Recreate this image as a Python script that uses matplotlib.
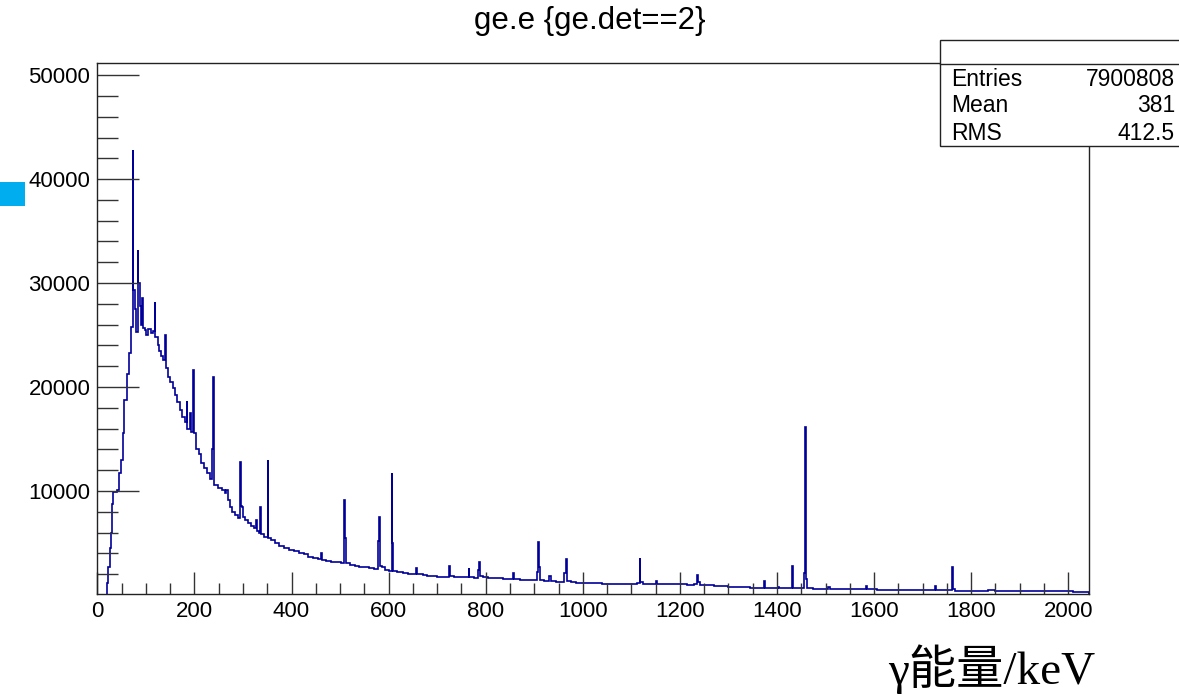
import matplotlib
matplotlib.use('Agg')
import matplotlib.pyplot as plt
from matplotlib.patches import Rectangle
from matplotlib.ticker import MultipleLocator

# histogram bins: lower edge (keV) and counts
bin_low = [0, 19, 21, 23, 26, 28, 30, 33, 40, 44, 48, 52, 56, 61, 65, 69,
           73, 74.5, 78, 80, 83, 84.5, 87, 90, 92, 94, 98, 100, 105, 110, 115,
           118, 119.5, 124, 128, 132, 136, 139, 140.5, 145, 150, 155, 160, 165,
           170, 175, 180, 184, 185.5, 190, 193, 198, 199.5, 204, 209, 214, 220,
           226, 232, 236, 238, 239.5, 248, 256, 262, 266, 269, 273, 278, 284,
           290, 294, 295.5, 298, 300, 305, 310, 316, 322, 326, 329, 333, 336,
           337.5, 344, 351, 352.5, 358, 365, 375, 385, 395, 405, 415, 425, 435,
           445, 455, 461, 462.5, 472, 482, 492, 502, 509, 510.5, 512, 520, 530,
           540, 550, 560, 570, 578, 581, 582.5, 586, 592, 600, 606, 607.5, 609,
           617, 630, 640, 650, 656, 657.5, 670, 680, 690, 700, 710, 720, 724,
           725.5, 735, 745, 755, 765, 766.5, 775, 784, 786, 787.5, 795, 805, 815,
           825, 835, 845, 857, 858.5, 870, 880, 890, 900, 906, 908, 909.5, 911,
           920, 930, 935, 945, 955, 962, 965, 966.5, 975, 985, 995, 1010, 1025,
           1040, 1055, 1070, 1085, 1100, 1112, 1117, 1118.5, 1123, 1135, 1150,
           1152, 1170, 1185, 1200, 1215, 1230, 1235, 1236.5, 1242, 1255, 1270,
           1285, 1300, 1315, 1330, 1345, 1360, 1374, 1375.5, 1390, 1402, 1403.5,
           1415, 1425, 1431, 1432.5, 1445, 1452, 1456.5, 1458, 1459.5, 1461, 1475,
           1490, 1505, 1510, 1525, 1540, 1555, 1570, 1583, 1586, 1605, 1620,
           1635, 1650, 1665, 1680, 1695, 1710, 1726, 1727.5, 1745, 1760, 1761.5,
           1766, 1780, 1800, 1820, 1835, 1850, 1870, 1890, 1910, 1930, 1950,
           1970, 1990, 2010, 2030]
bin_counts = [0, 500, 1150, 2700, 4500, 6000, 8800, 9900, 10100, 11700, 13000,
              15600, 18750, 21300, 23300, 25800,
              42800, 29300, 27500, 25300, 33200, 30000, 27800, 26000, 28600,
              25700, 25500, 25000, 25600, 25200, 25400,
              28200, 24800, 24000, 23500, 23000, 22600, 25000, 21800, 21000,
              20500, 19900, 19200, 18600,
              17800, 17100, 16600, 18700, 16000, 17500, 15700, 21600, 15600,
              14000, 13600, 12700, 12200,
              11700, 11200, 14000, 21000, 10600, 10300, 10100, 9800, 10100,
              9100, 8500, 8000, 7700,
              7400, 12800, 8600, 8500, 7500, 7200, 6900, 6600, 6400, 7200,
              6200, 6000, 8500,
              5900, 5600, 13000, 5500, 5300, 5000, 4700, 4500, 4300, 4200,
              4000, 3900, 3700,
              3550, 3450, 4000, 3400, 3300, 3200, 3150, 3100, 9100, 5500,
              3050, 2900, 2800,
              2700, 2650, 2600, 2550, 5200, 7500, 2800, 2700, 2400, 2300,
              11700, 5000, 2300,
              2200, 2100, 2050, 2000, 2600, 2000, 1950, 1850, 1800, 1750,
              1750, 1700, 2800,
              1800, 1750, 1700, 1700, 2600, 1700, 1650, 2400, 3200, 1800,
              1700, 1650, 1600,
              1600, 1550, 1500, 2100, 1500, 1450, 1400, 1400, 1400, 2200,
              5100, 2700, 1400,
              1350, 1800, 1350, 1300, 1300, 2100, 3500, 1350, 1250, 1200,
              1200, 1150, 1150,
              1100, 1100, 1100, 1050, 1050, 1150, 3550, 1300, 1100, 1100,
              1350,
              1050, 1100, 1050, 1050, 1000, 1050, 1900, 1300, 950, 950, 900,
              850, 800, 780, 750, 700, 700, 1350, 680, 650, 800, 650,
              650, 650, 2800, 650, 650, 700, 2100, 16150, 1500, 650, 600,
              600, 750, 550, 550, 550, 550, 550, 850, 550, 520, 520,
              500, 500, 480, 470, 460, 450, 850, 450, 450, 2700, 600,
              420, 400, 400, 400, 450, 400, 390, 380, 370, 360, 350,
              350, 350, 340, 340]
x_max = 2042
y_range = (100, 51165)

stats_names = ['Entries', 'Mean', 'RMS']
stats_values = ['7900808', '381', '412.5']

title = 'ge.e {ge.det==2}'
x_label = 'γ能量/keV'

W, H = 1179, 698
fig = plt.figure(figsize=(W / 100, H / 100), dpi=100)
ax = fig.add_axes([97.3 / W, 1 - 594 / H, (1088.7 - 97.3) / W, (594 - 63) / H])

edges = bin_low + [x_max]
ax.stairs(bin_counts, edges, color='#000099', linewidth=1.2)

ax.set_xlim(0, x_max)
ax.set_ylim(*y_range)
ax.xaxis.set_major_locator(MultipleLocator(200))
ax.xaxis.set_minor_locator(MultipleLocator(50))
ax.yaxis.set_major_locator(MultipleLocator(10000))
ax.yaxis.set_minor_locator(MultipleLocator(2000))

ax.tick_params(which='both', direction='in', top=False, right=False,
               width=1.0, color='#333333')
ax.tick_params(axis='y', which='major', length=30, pad=5)
ax.tick_params(axis='y', which='minor', length=15)
ax.tick_params(axis='x', which='major', length=16, pad=5)
ax.tick_params(axis='x', which='minor', length=8)
for lbl in ax.get_xticklabels() + ax.get_yticklabels():
    lbl.set_fontfamily('Liberation Sans')
    lbl.set_fontsize(16)
for sp in ax.spines.values():
    sp.set_linewidth(1.0)
    sp.set_color('#222222')

# title
fig.text(0.5, 1 - 29 / H, title, ha='center', va='baseline',
         family='Liberation Sans', fontsize=22.5)

# stats box
fig.add_artist(Rectangle((940 / W, 1 - 146 / H), 260 / W, 106 / H,
                         transform=fig.transFigure, facecolor='white',
                         edgecolor='#222222', linewidth=1.0, clip_on=False,
                         zorder=5))
fig.add_artist(plt.Line2D([940 / W, 1.0], [1 - 64 / H, 1 - 64 / H],
                          transform=fig.transFigure, color='#222222',
                          linewidth=1.0, zorder=6))
row_y = [80, 106, 133]
for name, val, yy in zip(stats_names, stats_values, row_y):
    fig.text(951 / W, 1 - yy / H, name, ha='left', va='center',
             family='Liberation Sans', fontsize=16.5, zorder=7)
    fig.text(1175 / W, 1 - yy / H, val, ha='right', va='center',
             family='Liberation Sans', fontsize=16.5, zorder=7)

# small cyan marker at left edge
fig.add_artist(Rectangle((0, 1 - 205.5 / H), 25 / W, 23 / H,
                         transform=fig.transFigure, facecolor='#00AEEF',
                         edgecolor='none', zorder=5))

# axis label (serif, lower right)
fig.text(1095 / W, 1 - 684 / H, x_label, ha='right', va='baseline',
         family=['Liberation Serif', 'Noto Sans CJK SC'], fontsize=34)

fig.savefig('out.png', dpi=100)
